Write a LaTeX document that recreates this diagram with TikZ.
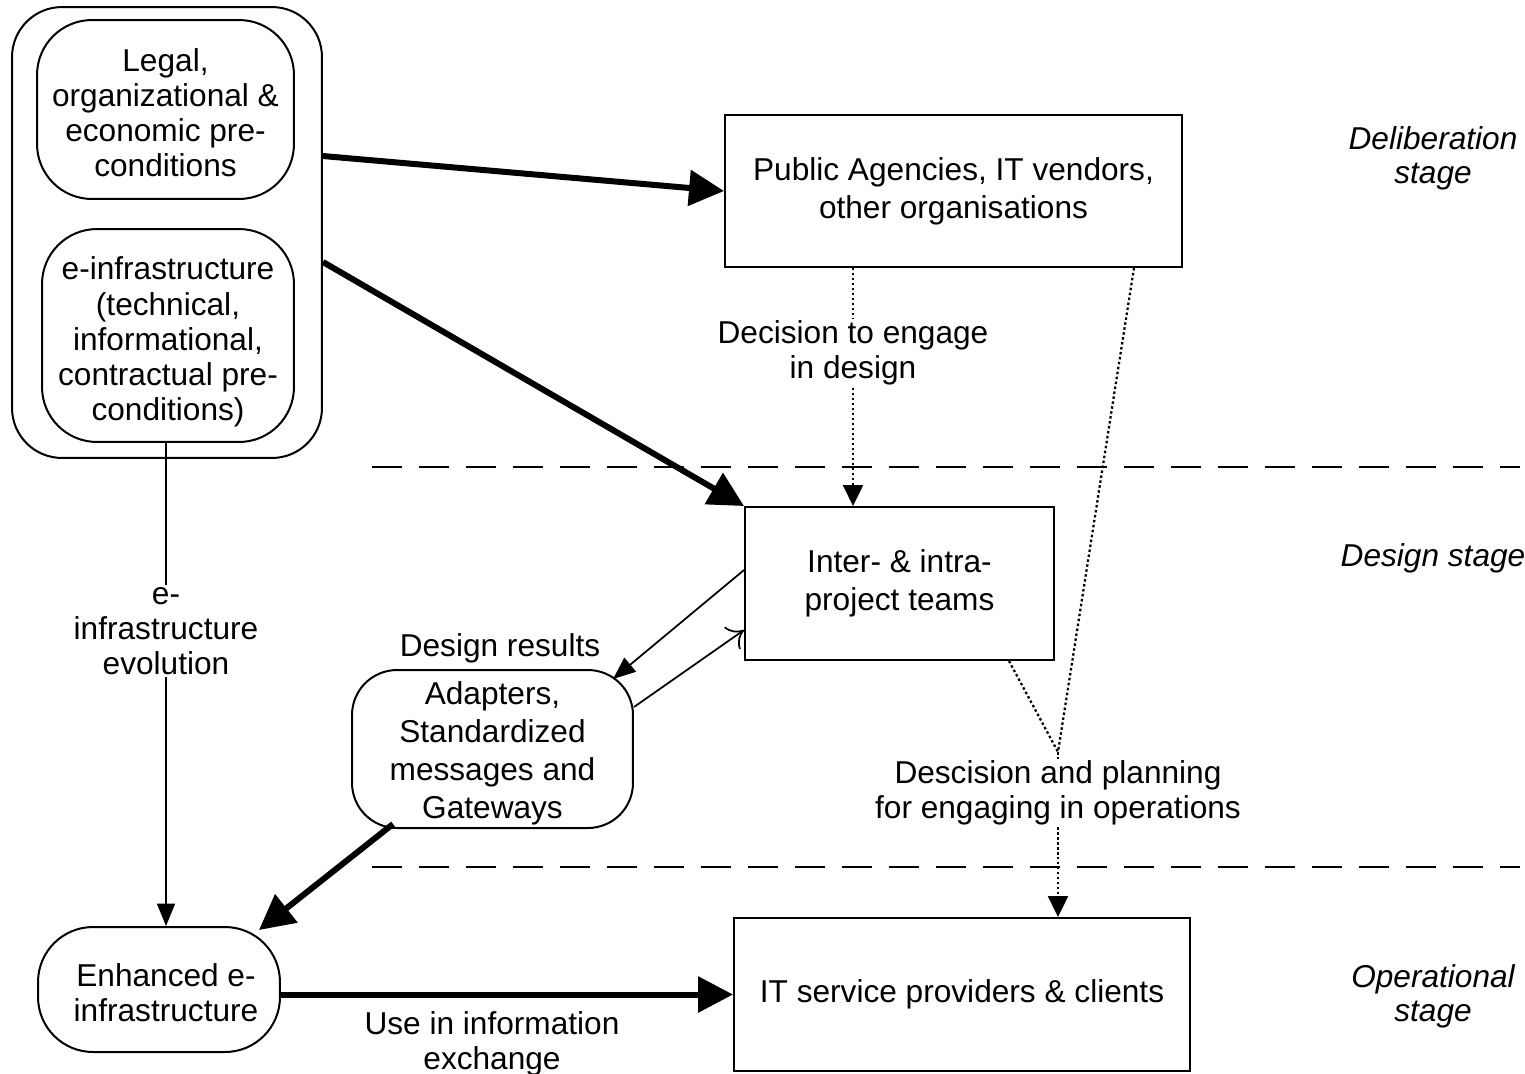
\documentclass[tikz,border=0pt]{standalone}
\usepackage{fontspec}
\setmainfont{Liberation Sans}
\usetikzlibrary{arrows.meta,calc}
\begin{document}
\begin{tikzpicture}[x=0.02cm,y=-0.02cm,
  every node/.style={font=\fontsize{18}{20}\selectfont, align=center, inner sep=2pt},
  wide/.style={font=\fontsize{18}{21.6}\selectfont},
  rbox/.style={draw, line width=0.04cm, rounded corners=1.1cm, inner sep=0pt},
  sbox/.style={draw, line width=0.04cm, inner sep=0pt},
  heavy/.style={line width=0.12cm, -{Triangle[length=0.7cm,width=0.7cm]}},
  thin/.style={line width=0.035cm},
  thinarrow/.style={thin, -{Triangle[length=0.45cm,width=0.36cm]}},
  openarrow/.style={thin, -{To[length=0.3cm,width=0.55cm]}},
  dots/.style={line width=0.045cm, dash pattern=on 0.05cm off 0.05cm},
  dotarrow/.style={dots, -{Triangle[length=0.42cm,width=0.4cm]}},
  dashline/.style={line width=0.04cm, dash pattern=on 0.6cm off 0.34cm},
  lbl/.style={fill=white, inner sep=1pt},
  stage/.style={font=\fontsize{18}{19.5}\selectfont\itshape}
]
\useasboundingbox (0,0) rectangle (1525,1073);

% stage separators
\draw[dashline] (372,467) -- (1520,467);
\draw[dashline] (372,867) -- (1520,867);

% boxes
\node[rbox, rounded corners=1cm, minimum width=6.2cm, minimum height=9.02cm] (outer) at (167,232.5) {};
\node[rbox, minimum width=5.14cm, minimum height=3.58cm] (legal) at (165.5,109.5) {};
\node (legaltxt) at ([yshift=-0.06cm]legal.center)
  {Legal,\\organizational \&\\economic pre-\\conditions};
\node[rbox, minimum width=5.04cm, minimum height=4.26cm] (einfra) at (168,335.5) {};
\node (einfratxt) at ([yshift=-0.13cm]einfra.center)
  {e-infrastructure\\(technical,\\informational,\\contractual pre-\\conditions)};
\node[sbox, wide, minimum width=9.14cm, minimum height=3.04cm] (pub) at (953.5,191)
  {Public Agencies, IT vendors,\\other organisations};
\node[sbox, wide, minimum width=6.18cm, minimum height=3.06cm] (inter) at (899.5,583.5)
  {Inter- \& intra-\\project teams};
\node[rbox, rounded corners=0.9cm, minimum width=5.62cm, minimum height=3.16cm] (adapt) at (492.5,749) {};
\node[wide] (adapttxt) at ([yshift=-0.08cm]adapt.center)
  {Adapters,\\Standardized\\messages and\\Gateways};
\node[rbox, minimum width=4.84cm, minimum height=2.5cm] (enh) at (159,989.5) {};
\node (enhtxt) at ([xshift=0.14cm,yshift=-0.06cm]enh.center)
  {Enhanced e-\\infrastructure};
\node[sbox, minimum width=9.12cm, minimum height=3.06cm] (it) at (962,994.5)
  {IT service providers \& clients};

% stage labels
\node[stage] (s1) at (1433,158) {Deliberation\\stage};
\node[stage] (s2) at (1433,558) {Design stage};
\node[stage] (s3) at (1433,996) {Operational\\stage};

% heavy arrows
\draw[heavy] ([yshift=1.53cm]outer.east) -- (pub.west);
\draw[heavy] ([yshift=-0.59cm]outer.east) -- (inter.north west);
\draw[heavy] ([xshift=-1.99cm,yshift=0.1cm]adapt.south) -- ([xshift=-0.44cm,yshift=-0.08cm]enh.north east);
\draw[heavy] (enh.east |- it.west) -- (it.west);

% thin arrows
\draw[thinarrow] ([xshift=-0.04cm]einfra.south) coordinate (e1) -- (e1 |- enh.north);
\node[lbl] (evo) at (166,631) {e-\\infrastructure\\evolution};
\draw[thinarrow] ([yshift=0.27cm]inter.west) -- ([xshift=-0.42cm,yshift=-0.2cm]adapt.north east);
\draw[openarrow] ([yshift=0.84cm]adapt.east) -- ([yshift=-0.93cm]inter.west);
\node (dres) at (500,648) {Design results};

% dotted decision arrows
\draw[dotarrow] ([xshift=-2.01cm]pub.south) coordinate (d1) -- (d1 |- inter.north);
\node[lbl] (dec) at (853,353) {Decision to engage\\in design};
\coordinate (v) at (1058,752);
\draw[dots] ([xshift=-0.98cm]pub.south east) -- (v);
\draw[dots] ([xshift=-0.92cm]inter.south east) -- (v);
\draw[dotarrow] (v) -- (v |- it.north);
\node[lbl] (plan) at (1058,793) {Descision and planning\\for engaging in operations};

\node (use) at (492,1044) {Use in information\\exchange};
\end{tikzpicture}
\end{document}
